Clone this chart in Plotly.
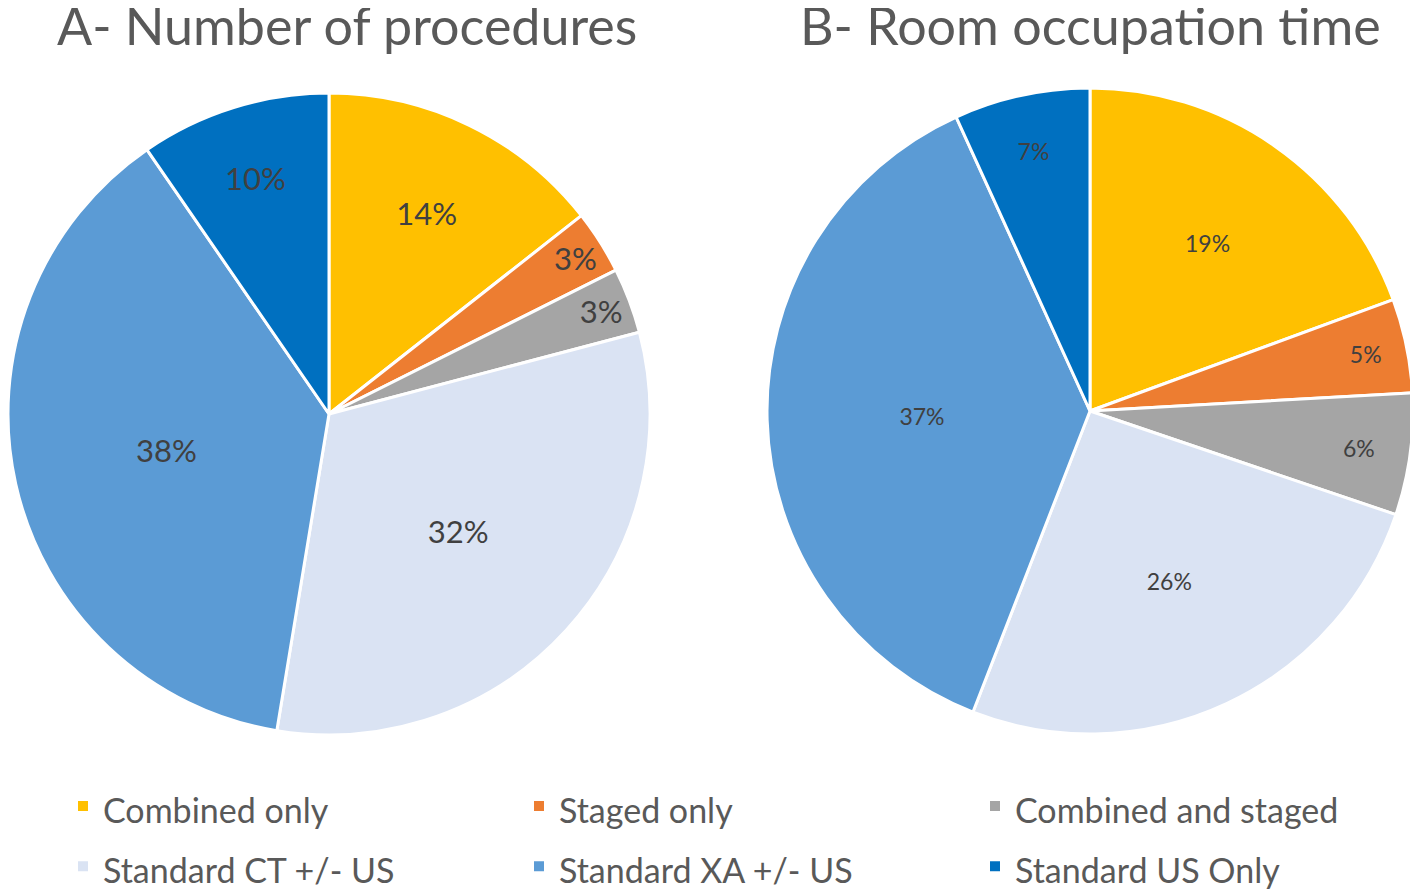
import plotly.graph_objects as go

categories = ["Combined only", "Staged only", "Combined and staged",
              "Standard CT +/- US", "Standard XA +/- US", "Standard US Only"]
procedures_pct = [14.4, 3.2, 3.3, 31.7, 37.8, 9.6]
occupation_pct = [19.4, 4.7, 6.1, 25.7, 37.3, 6.8]
colors = ["#FFC000", "#ED7D31", "#A5A5A5", "#DAE3F3", "#5B9BD5", "#0070C0"]
titles = ["A- Number of procedures", "B- Room occupation time"]

FONT = "Lato, 'Open Sans', sans-serif"
W, H = 1418, 892

# legend labels: visible text size inside a taller legend line (row spacing)
legend_labels = [f"<span style='font-size:34px'>{c}</span>" for c in categories]

fig = go.Figure()
fig.add_trace(go.Pie(
    labels=legend_labels, values=procedures_pct, sort=False, direction="clockwise",
    rotation=0, marker=dict(colors=colors, line=dict(color="white", width=3)),
    textinfo="percent", texttemplate="%{percent:.0%}",
    textposition="inside", insidetextorientation="horizontal",
    textfont=dict(family=FONT, size=31, color="#404040"),
    domain=dict(x=[0, 642/W], y=[1-727/H, 1-85/H]),
    showlegend=True, hovertemplate="%{label}: %{percent}<extra></extra>",
))
fig.add_trace(go.Pie(
    labels=legend_labels, values=occupation_pct, sort=False, direction="clockwise",
    rotation=0, marker=dict(colors=colors, line=dict(color="white", width=3)),
    textinfo="percent", texttemplate="%{percent:.0%}",
    textposition="inside", insidetextorientation="horizontal",
    textfont=dict(family=FONT, size=23, color="#404040"),
    domain=dict(x=[759/W, 1405/W], y=[1-726/H, 1-80/H]),
    showlegend=False, hovertemplate="%{label}: %{percent}<extra></extra>",
))

fig.update_layout(
    width=W, height=H,
    margin=dict(l=0, r=0, t=0, b=0, autoexpand=False),
    paper_bgcolor="white", plot_bgcolor="white",
    font=dict(family=FONT, color="#595959"),
    legend=dict(orientation="h", x=55/W, y=1-763/H, xanchor="left", yanchor="top",
                entrywidth=411, entrywidthmode="pixels",
                font=dict(family=FONT, size=44, color="#595959"),
                itemsizing="constant"),
    annotations=[
        dict(text=titles[0], x=339/W, y=1 - 17/H, xref="paper", yref="paper",
             xanchor="center", yanchor="middle",
             showarrow=False, font=dict(family=FONT, size=52, color="#595959")),
        dict(text=titles[1], x=1082/W, y=1 - 17/H, xref="paper", yref="paper",
             xanchor="center", yanchor="middle",
             showarrow=False, font=dict(family=FONT, size=52, color="#595959")),
    ],
)

fig.write_html("out.html")
